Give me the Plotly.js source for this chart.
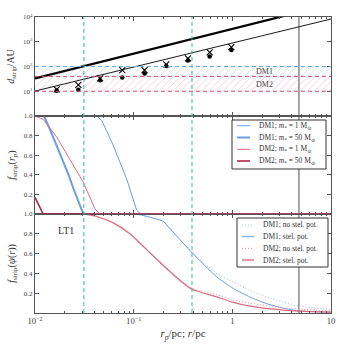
<!DOCTYPE html>
<html>
<head>
<meta charset="utf-8">
<script src="https://cdn.plot.ly/plotly-3.0.1.min.js"></script>
<style>
  html, body { margin: 0; padding: 0; background: #fff; }
  #chart { width: 348px; height: 348px; }
</style>
</head>
<body>
<div id="chart"></div>
<script>
// top panel: stripping distance vs pericentre
const rPts = [0.0166, 0.0275, 0.0457, 0.0767, 0.129, 0.214, 0.355, 0.589, 0.977];
const dCirc = [10.5, 11.5, 28, 36, 52, 105, 174, 251, 468];
const dCross = [12, 18, 33, 72, 72, 123, 214, 372, 603];
const lineThickR = [0.01, 10];
const lineThickD = [33, 33000];
const lineThinR = [0.01, 10];
const lineThinD = [10.2, 8300];
const levelDM1 = 100;
const levelDM2a = 40;
const levelDM2b = 10;
const xEdges = [0.01, 10];

// middle panel: f_strip(r_p)
const dm1m1R = [0.01, 0.0422, 0.0474, 0.0621, 0.0849, 0.107, 0.115, 0.13, 10];
const dm1m1F = [1, 1, 0.956, 0.70, 0.358, 0.04, 0.01, 0, 0];
const dm1m50R = [0.01, 0.0123, 0.0141, 0.0166, 0.0195, 0.0219, 0.0245, 0.0275, 0.0309, 10];
const dm1m50F = [1, 1, 0.87, 0.70, 0.53, 0.40, 0.26, 0.12, 0, 0];
const dm2m1R = [0.01, 0.0121, 0.0166, 0.0226, 0.0309, 0.0406, 0.0457, 10];
const dm2m1F = [1, 0.966, 0.785, 0.563, 0.324, 0.05, 0, 0];
const dm2m50R = [0.01, 0.0121, 10];
const dm2m50F = [0.17, 0, 0];

// bottom panel: f_strip(psi(r))
const dm2R = [0.0309, 0.0422, 0.0621, 0.0916, 0.1355, 0.2, 0.294, 0.389, 0.693, 1.0, 1.5, 3.28, 10];
const dm2StelF = [1.0, 0.975, 0.91, 0.80, 0.64, 0.48, 0.33, 0.24, 0.163, 0.11, 0.07, 0.03, 0.008];
const dm2NoF = [1.0, 0.975, 0.91, 0.80, 0.64, 0.48, 0.335, 0.25, 0.185, 0.135, 0.10, 0.05, 0.02];
const dm1R = [0.107, 0.125, 0.2, 0.216, 0.318, 0.398, 0.693, 1.02, 1.5, 2.22, 3.28, 4.8, 10];
const dm1StelF = [1.0, 0.985, 0.925, 0.89, 0.705, 0.60, 0.366, 0.248, 0.163, 0.095, 0.05, 0.02, 0.008];
const dm1NoF = [1.0, 0.985, 0.925, 0.89, 0.705, 0.605, 0.40, 0.315, 0.23, 0.163, 0.11, 0.07, 0.035];

// reference lines
const cyanLines = [0.0313, 0.39];
const greyLine = 4.73;

const topTicks = [10, 100, 1000, 10000];
const topTickText = ['10<sup>1</sup>', '10<sup>2</sup>', '10<sup>3</sup>', '10<sup>4</sup>'];
const fTicks = [0.2, 0.4, 0.6, 0.8, 1.0];
const fTickText = ['0.2', '0.4', '0.6', '0.8', '1.0'];

const legend1Names = [
    'DM1; <i>m</i><sub>*</sub> = 1 M<sub>⊙</sub>',
    'DM1; <i>m</i><sub>*</sub> = 50 M<sub>⊙</sub>',
    'DM2; <i>m</i><sub>*</sub> = 1 M<sub>⊙</sub>',
    'DM2; <i>m</i><sub>*</sub> = 50 M<sub>⊙</sub>'
];
const legend2Names = ['DM1; no stel. pot.', 'DM1; stel. pot.', 'DM2; no stel. pot.', 'DM2; stel. pot.'];

const BLUE = '#6a9fdc';
const BLUE_LT = '#a9c9ee';
const RED = '#dc6b82';
const RED_DK = '#b3264a';
const RED_LT = '#e79aaa';
const CYAN = '#35bba9';
const DOT = '1px,2px';

const styles1 = [
    {color: BLUE, width: 1},
    {color: BLUE, width: 2},
    {color: RED, width: 1},
    {color: RED_DK, width: 1.6}
];
const styles2 = [
    {color: BLUE_LT, width: 1.2, dash: DOT},
    {color: BLUE, width: 1},
    {color: RED_LT, width: 1.2, dash: DOT},
    {color: RED, width: 1.2}
];
const legendStyles2 = [
    styles2[0], styles2[1], styles2[2], {color: RED_LT, width: 2.2}
];

const traces = [
    // hatched bands
    {x: [xEdges[0], xEdges[1], xEdges[1], xEdges[0]], y: [levelDM2a, levelDM2a, levelDM1, levelDM1],
     xaxis: 'x3', yaxis: 'y3', type: 'scatter', mode: 'none', fill: 'toself', fillcolor: 'rgba(0,0,0,0)',
     fillpattern: {shape: '/', fgcolor: 'rgba(120,170,230,0.45)', size: 5, solidity: 0.15},
     hoverinfo: 'skip'},
    {x: [xEdges[0], xEdges[1], xEdges[1], xEdges[0]], y: [levelDM2b, levelDM2b, levelDM2a, levelDM2a],
     xaxis: 'x3', yaxis: 'y3', type: 'scatter', mode: 'none', fill: 'toself', fillcolor: 'rgba(0,0,0,0)',
     fillpattern: {shape: '/', fgcolor: 'rgba(230,120,150,0.45)', size: 5, solidity: 0.15},
     hoverinfo: 'skip'},
    {x: lineThickR, y: lineThickD, xaxis: 'x3', yaxis: 'y3', type: 'scatter', mode: 'lines',
     line: {color: '#000', width: 2.2}},
    {x: lineThinR, y: lineThinD, xaxis: 'x3', yaxis: 'y3', type: 'scatter', mode: 'lines',
     line: {color: '#000', width: 0.9}},
    {x: rPts, y: dCross, xaxis: 'x3', yaxis: 'y3', type: 'scatter', mode: 'markers',
     marker: {symbol: 'x-thin-open', size: 6, color: '#000', line: {color: '#000', width: 1.1}}},
    {x: rPts, y: dCirc, xaxis: 'x3', yaxis: 'y3', type: 'scatter', mode: 'markers',
     marker: {symbol: 'circle', size: 4.5, color: '#000'}},

    // middle panel
    {x: dm1m1R, y: dm1m1F, xaxis: 'x2', yaxis: 'y2', type: 'scatter', mode: 'lines', line: styles1[0]},
    {x: dm1m50R, y: dm1m50F, xaxis: 'x2', yaxis: 'y2', type: 'scatter', mode: 'lines', line: styles1[1]},
    {x: dm2m1R, y: dm2m1F, xaxis: 'x2', yaxis: 'y2', type: 'scatter', mode: 'lines', line: styles1[2]},
    {x: dm2m50R, y: dm2m50F, xaxis: 'x2', yaxis: 'y2', type: 'scatter', mode: 'lines', line: styles1[3]},

    // bottom panel
    {x: dm1R, y: dm1NoF, xaxis: 'x', yaxis: 'y', type: 'scatter', mode: 'lines',
     line: Object.assign({shape: 'spline', smoothing: 0.6}, styles2[0])},
    {x: dm1R, y: dm1StelF, xaxis: 'x', yaxis: 'y', type: 'scatter', mode: 'lines',
     line: Object.assign({shape: 'spline', smoothing: 0.6}, styles2[1])},
    {x: dm2R, y: dm2NoF, xaxis: 'x', yaxis: 'y', type: 'scatter', mode: 'lines',
     line: Object.assign({shape: 'spline', smoothing: 0.6}, styles2[2])},
    {x: dm2R, y: dm2StelF, xaxis: 'x', yaxis: 'y', type: 'scatter', mode: 'lines',
     line: Object.assign({shape: 'spline', smoothing: 0.6}, styles2[3])}
];

const FONT = 'Liberation Serif, DejaVu Serif, serif';
const AX_COLOR = '#555';

function xAx(anchor, labels) {
    return {
        type: 'log', range: [-2, 1], anchor: anchor, dtick: 1,
        exponentformat: 'power', showticklabels: labels,
        ticks: 'inside', ticklen: 4, tickcolor: AX_COLOR,
        minor: {ticks: 'inside', ticklen: 2, tickcolor: AX_COLOR},
        showline: true, linecolor: AX_COLOR, linewidth: 1.2, mirror: 'allticks',
        showgrid: false, zeroline: false,
        tickfont: {size: 7, color: '#444'}
    };
}
function yAx(domain, extra) {
    return Object.assign({
        domain: domain, ticks: 'inside', ticklen: 4, tickcolor: AX_COLOR,
        showline: true, linecolor: AX_COLOR, linewidth: 1.2, mirror: 'allticks',
        showgrid: false, zeroline: false,
        tickfont: {size: 7, color: '#444'}
    }, extra);
}

// plot area in pixels: l=35, r=331, t=17, b=313
const px = v => (v - 35) / 296;
const py = v => (313 - v) / 296;

const shapes = [];
cyanLines.forEach(v => {
    shapes.push({type: 'line', xref: 'x', yref: 'paper', x0: v, x1: v, y0: 0, y1: 1,
        line: {color: CYAN, width: 1, dash: '4px,3px'}});
});
shapes.push({type: 'line', xref: 'x', yref: 'paper', x0: greyLine, x1: greyLine, y0: 0, y1: 1,
    layer: 'below', line: {color: '#8a8a8a', width: 1.5}});
[[levelDM1, '#6aaae8'], [levelDM2a, '#d04a6a'], [levelDM2b, '#d04a6a']].forEach(([lv, c]) => {
    shapes.push({type: 'line', xref: 'x3 domain', yref: 'y3', x0: 0, x1: 1, y0: lv, y1: lv,
        line: {color: c, width: 1, dash: '4px,3px'}});
});

const annotations = [
    {xref: 'x3', yref: 'y3', x: Math.log10(2.1), y: Math.log10(62), text: 'DM1', showarrow: false,
     font: {size: 8, color: '#444'}},
    {xref: 'x3', yref: 'y3', x: Math.log10(2.1), y: Math.log10(19), text: 'DM2', showarrow: false,
     font: {size: 8, color: '#444'}},
    {xref: 'x', yref: 'y', x: Math.log10(0.0205), y: 0.83, text: 'LT1', showarrow: false,
     font: {size: 10, color: '#333'}}
];

// hand-drawn legends (box, line samples, labels)
function addLegend(box, rows, names, lineStyles, sx0, sx1, tx) {
    shapes.push({type: 'rect', xref: 'paper', yref: 'paper', layer: 'above',
        x0: px(box[0]), x1: px(box[1]), y0: py(box[3]), y1: py(box[2]),
        fillcolor: '#fff', line: {color: '#333', width: 1}});
    names.forEach((n, i) => {
        shapes.push({type: 'line', xref: 'paper', yref: 'paper', layer: 'above',
            x0: px(sx0), x1: px(sx1), y0: py(rows[i]), y1: py(rows[i]), line: lineStyles[i]});
        annotations.push({xref: 'paper', yref: 'paper', x: px(tx), y: py(rows[i]),
            xanchor: 'left', yanchor: 'middle', text: n, showarrow: false,
            font: {size: 7.5, color: '#333'}});
    });
}
addLegend([232, 326, 120, 169], [125.7, 137.5, 149.3, 161], legend1Names, styles1, 237, 250, 257);
addLegend([237, 328, 218, 267], [225, 236.7, 248.3, 260], legend2Names, legendStyles2, 242, 254, 261);

const layout = {
    width: 348, height: 348,
    margin: {l: 35, r: 17, t: 17, b: 35},
    showlegend: false,
    paper_bgcolor: '#fff', plot_bgcolor: '#fff',
    font: {family: FONT, color: '#333'},
    xaxis: Object.assign(xAx('y', true), {
        title: {text: '<i>r</i><sub><i>p</i></sub>/pc; <i>r</i>/pc', font: {size: 11}, standoff: 4}
    }),
    xaxis2: Object.assign(xAx('y2', false), {matches: 'x'}),
    xaxis3: Object.assign(xAx('y3', false), {matches: 'x'}),
    yaxis: yAx([0, 0.3345], {range: [0, 1], tickvals: fTicks, ticktext: fTickText,
        title: {text: '<i>f</i><sub>strip</sub>(<i>ψ</i>(<i>r</i>))', font: {size: 10}, standoff: 6}}),
    yaxis2: yAx([0.3345, 0.6655], {range: [0, 1], tickvals: fTicks, ticktext: fTickText,
        title: {text: '<i>f</i><sub>strip</sub>(<i>r</i><sub><i>p</i></sub>)', font: {size: 10}, standoff: 6}}),
    yaxis3: yAx([0.6655, 1], {type: 'log', range: [0, 4], tickvals: topTicks, ticktext: topTickText,
        title: {text: '<i>d</i><sub>strip</sub>/AU', font: {size: 10}, standoff: 6}}),
    shapes: shapes,
    annotations: annotations
};

Plotly.newPlot('chart', traces, layout, {staticPlot: true});
</script>
</body>
</html>
